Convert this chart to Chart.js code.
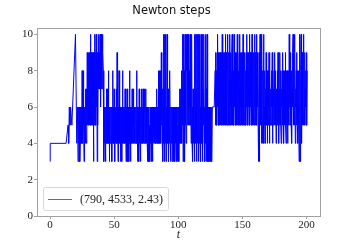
<!DOCTYPE html>
<html>
<head>
<meta charset="utf-8">
<script src="https://cdn.jsdelivr.net/npm/chart.js@4"></script>
<style>
  html, body { margin: 0; padding: 0; background: #fff; }
  canvas { display: block; }
</style>
</head>
<body>
<canvas id="chart" width="343" height="241"></canvas>
<script>
// start of the run: only a few long steps
const tStart = [0, 0.1, 12.5, 14, 14.5, 15, 15.5, 16, 17, 19.8, 20.8, 21.3, 21.8, 22.2];
const stepsStart = [3, 4, 4, 5, 4, 6, 5, 6, 5, 10, 4, 6, 3, 6];

// from t = 22.5 on the samples come every 0.25 (20 per row)
const denseT0 = 22.5;
const denseDt = 0.25;
const stepsDense = [
  4, 6, 5, 3, 4, 6, 4, 5, 6, 4, 8, 5, 4, 6, 8, 5, 3, 4, 6, 5,       // 22.5
  4, 7, 5, 4, 7, 5, 9, 5, 9, 6, 9, 5, 8, 5, 9, 5, 10, 5, 9, 5,      // 27.5
  9, 5, 9, 6, 9, 3, 9, 5, 9, 5, 10, 5, 9, 5, 10, 6, 9, 3, 9, 5,     // 32.5
  9, 7, 10, 7, 9, 7, 10, 8, 6, 10, 7, 9, 7, 10, 7, 9, 8, 5, 3, 6,   // 37.5
  4, 6, 4, 3, 6, 4, 7, 4, 7, 5, 4, 6, 8, 4, 6, 3, 5, 4, 6, 4,       // 42.5
  6, 4, 6, 3, 6, 4, 8, 4, 6, 4, 7, 5, 3, 6, 4, 6, 4, 7, 4, 9,       // 47.5
  4, 6, 3, 6, 4, 8, 4, 6, 4, 6, 3, 5, 4, 6, 3, 6, 8, 4, 6, 4,       // 52.5
  6, 4, 6, 4, 7, 4, 6, 3, 6, 4, 7, 4, 6, 3, 6, 4, 3, 6, 8, 4,       // 57.5
  6, 3, 6, 4, 6, 4, 7, 4, 6, 4, 7, 5, 6, 4, 6, 4, 6, 4, 6, 4,       // 62.5
  8, 4, 6, 3, 6, 4, 6, 3, 7, 4, 6, 4, 3, 6, 4, 6, 7, 4, 6, 4,       // 67.5
  7, 4, 6, 4, 7, 5, 6, 4, 7, 4, 6, 4, 6, 4, 3, 6, 4, 6, 3, 5,       // 72.5
  4, 3, 6, 4, 6, 3, 6, 4, 6, 3, 6, 4, 6, 4, 5, 6, 4, 6, 4, 6,       // 77.5
  4, 6, 4, 7, 4, 6, 4, 6, 8, 4, 6, 8, 4, 7, 5, 8, 4, 9, 5, 6,       // 82.5
  4, 7, 3, 6, 10, 4, 7, 3, 10, 5, 4, 10, 3, 6, 4, 10, 6, 4, 7, 5,   // 87.5
  3, 6, 4, 6, 8, 4, 3, 6, 4, 5, 6, 3, 6, 4, 6, 3, 6, 4, 6, 3,       // 92.5
  6, 4, 6, 3, 6, 4, 5, 6, 3, 6, 4, 6, 3, 6, 7, 4, 6, 4, 7, 5,       // 97.5
  8, 4, 7, 5, 10, 3, 6, 10, 4, 8, 3, 10, 5, 7, 4, 10, 5, 8, 10, 5,  // 102.5
  8, 10, 5, 7, 5, 8, 6, 10, 5, 7, 4, 6, 10, 4, 6, 3, 7, 4, 6, 5,    // 107.5
  3, 10, 4, 6, 10, 4, 7, 3, 10, 5, 4, 10, 6, 3, 10, 4, 7, 10, 4, 6, // 112.5
  3, 10, 5, 4, 6, 3, 10, 4, 7, 5, 10, 4, 6, 3, 6, 10, 4, 7, 3, 6,   // 117.5
  10, 4, 3, 6, 4, 3, 6, 3, 5, 4, 3, 6, 3, 6, 4, 3, 6, 6, 6, 6,      // 122.5
  6, 6, 6, 6, 6, 8, 5, 9, 5, 8, 5, 9, 6, 10, 5, 9, 5, 8, 5, 9,      // 127.5
  5, 9, 5, 8, 6, 9, 5, 10, 5, 9, 6, 9, 5, 8, 5, 9, 6, 10, 5, 9,     // 132.5
  5, 9, 5, 10, 5, 8, 6, 9, 5, 9, 5, 10, 5, 9, 6, 8, 5, 9, 10, 5,    // 137.5
  9, 5, 8, 5, 10, 6, 9, 5, 9, 5, 8, 6, 9, 5, 10, 5, 9, 6, 8, 5,     // 142.5
  9, 5, 10, 5, 9, 6, 8, 5, 9, 5, 9, 6, 10, 5, 8, 5, 9, 6, 9, 5,     // 147.5
  8, 5, 9, 6, 10, 5, 9, 5, 8, 6, 9, 5, 10, 5, 9, 6, 8, 5, 9, 5,     // 152.5
  10, 5, 9, 6, 8, 5, 9, 5, 10, 6, 9, 5, 8, 5, 10, 5, 9, 6, 8, 5,    // 157.5
  3, 5, 9, 3, 6, 10, 5, 8, 10, 4, 6, 10, 5, 4, 8, 6, 10, 4, 6, 5,   // 162.5
  8, 4, 7, 5, 9, 6, 5, 8, 4, 7, 5, 8, 6, 9, 5, 4, 8, 5, 7, 6,       // 167.5
  5, 8, 6, 9, 4, 8, 5, 7, 6, 8, 5, 9, 6, 5, 8, 4, 7, 6, 5, 8,       // 172.5
  6, 9, 5, 8, 4, 7, 5, 9, 6, 8, 5, 4, 7, 6, 8, 5, 9, 5, 8, 4,       // 177.5
  7, 5, 8, 6, 9, 5, 4, 8, 6, 5, 8, 4, 7, 6, 8, 5, 10, 6, 8, 5,      // 182.5
  9, 6, 5, 8, 4, 7, 6, 9, 10, 5, 8, 6, 10, 5, 9, 4, 7, 6, 8, 5,     // 187.5
  9, 5, 8, 4, 6, 8, 5, 3, 6, 10, 3, 5, 8, 10, 6, 4, 9, 5, 8, 6,     // 192.5
  10, 5, 8, 6, 9, 5, 7, 6, 8, 5, 9, 5, 8                            // 197.5
];

const xTicks = [0, 50, 100, 150, 200];
const yTicks = [0, 2, 4, 6, 8, 10];
const legendLabel = '(790, 4533, 2.43)';

const points = tStart.map((t, i) => ({ x: t, y: stepsStart[i] }));
stepsDense.forEach((s, i) => {
  points.push({ x: denseT0 + i * denseDt, y: s });
});

const frameColor = '#a0a0a0';
const tickFont = { family: '"Liberation Serif", serif', size: 11 };

// full box around the plot area
const framePlugin = {
  id: 'frame',
  afterDraw(chart) {
    const a = chart.chartArea;
    const ctx = chart.ctx;
    ctx.save();
    ctx.strokeStyle = frameColor;
    ctx.lineWidth = 1;
    ctx.strokeRect(Math.round(a.left) + 0.5, Math.round(a.top) + 0.5,
      Math.round(a.right - a.left), Math.round(a.bottom - a.top));
    ctx.restore();
  }
};

// legend box inside the plot, lower left
const innerLegend = {
  id: 'innerLegend',
  afterDraw(chart) {
    const a = chart.chartArea;
    const ctx = chart.ctx;
    const ds = chart.data.datasets[0];
    const x = a.left + 6, y = a.bottom - 29, w = 125, h = 23;
    ctx.save();
    ctx.fillStyle = 'rgba(255,255,255,0.8)';
    ctx.strokeStyle = '#d8d8d8';
    ctx.lineWidth = 1;
    ctx.beginPath();
    ctx.roundRect(x + 0.5, y + 0.5, w, h, 2);
    ctx.fill();
    ctx.stroke();
    ctx.strokeStyle = 'rgba(0,0,255,0.65)';
    ctx.lineWidth = 1;
    ctx.beginPath();
    ctx.moveTo(x + 5, y + 12.5);
    ctx.lineTo(x + 29, y + 12.5);
    ctx.stroke();
    ctx.fillStyle = '#222';
    ctx.font = '12px "Liberation Serif", serif';
    ctx.textBaseline = 'middle';
    ctx.fillText(ds.label, x + 37, y + 12.5);
    ctx.restore();
  }
};

new Chart(document.getElementById('chart'), {
  type: 'line',
  data: {
    datasets: [{
      label: legendLabel,
      data: points,
      borderColor: '#0000ff',
      borderWidth: 1,
      pointRadius: 0,
      tension: 0,
      fill: false
    }]
  },
  options: {
    responsive: false,
    animation: false,
    devicePixelRatio: 1,
    layout: { padding: 0 },
    plugins: {
      legend: { display: false },
      tooltip: { enabled: false },
      title: {
        display: true,
        text: 'Newton steps',
        color: '#111',
        font: { family: '"DejaVu Sans", sans-serif', size: 11.5, weight: 'normal', lineHeight: 1.2 },
        padding: { top: 4.2, bottom: 10 }
      }
    },
    scales: {
      x: {
        type: 'linear',
        min: -10.2,
        max: 210.5,
        afterBuildTicks: s => { s.ticks = xTicks.map(v => ({ value: v })); },
        afterFit: s => { s.height = 25; },
        grid: { drawOnChartArea: false, drawTicks: true, tickLength: 3, color: frameColor },
        border: { display: true, color: frameColor },
        ticks: { font: tickFont, color: '#222', padding: 0, maxRotation: 0 },
        title: {
          display: true,
          text: 't',
          color: '#222',
          font: { family: '"Liberation Serif", serif', size: 12, style: 'italic', lineHeight: 1 },
          padding: { top: 0, bottom: 0 }
        }
      },
      y: {
        min: 0,
        max: 10.35,
        afterBuildTicks: s => { s.ticks = yTicks.map(v => ({ value: v })); },
        afterFit: s => { s.width = 37; },
        grid: { drawOnChartArea: false, drawTicks: true, tickLength: 3, color: frameColor },
        border: { display: true, color: frameColor },
        ticks: { font: tickFont, color: '#222', padding: 1 }
      },
      // empty margin on the right so the title stays centred on the figure
      yRight: {
        position: 'right',
        afterFit: s => { s.width = 23; },
        grid: { display: false },
        border: { display: false },
        ticks: { display: false }
      }
    }
  },
  plugins: [framePlugin, innerLegend]
});
</script>
</body>
</html>
